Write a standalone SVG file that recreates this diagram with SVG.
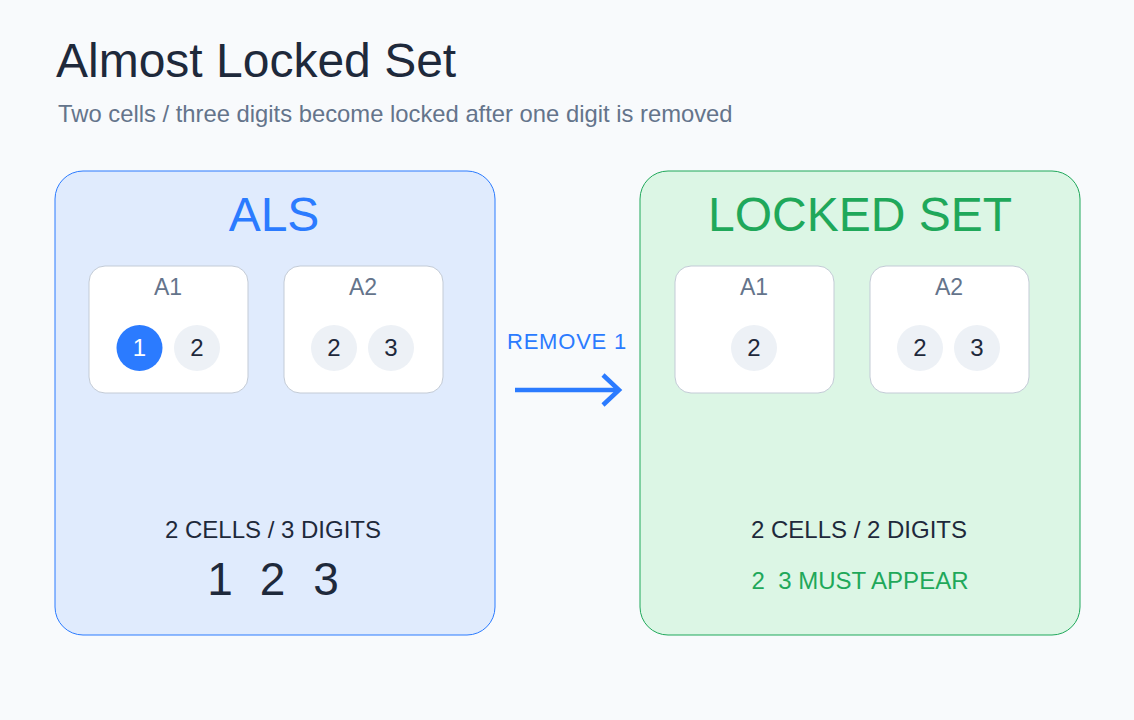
<svg xmlns="http://www.w3.org/2000/svg" width="1134" height="720" viewBox="0 0 1134 720">
  <defs>
    <style>
      text { font-family: "Liberation Sans", Arial, sans-serif; }
      .title { font-size: 48px; fill: #1e293b; }
      .subtitle { font-size: 23.8px; fill: #64748b; }
      .panel-als { fill: #e0ebfd; stroke: #2b7bff; stroke-width: 1; }
      .panel-lock { fill: #dcf6e5; stroke: #1fa85a; stroke-width: 1; }
      .head { font-size: 48px; text-anchor: middle; }
      .cell { fill: #ffffff; stroke: #c3cbd6; stroke-width: 1; }
      .cell-label { font-size: 23px; fill: #64748b; text-anchor: middle; }
      .cand { fill: #edf1f6; }
      .cand-sel { fill: #2b7bff; }
      .cand-text { font-size: 24px; fill: #1e293b; text-anchor: middle; }
      .cand-text-sel { font-size: 24px; fill: #ffffff; text-anchor: middle; }
      .info { font-size: 24px; fill: #1e293b; text-anchor: middle; }
      .big { font-size: 46px; fill: #1e293b; text-anchor: middle; }
      .conn { stroke: #2b7bff; stroke-width: 4.5; fill: none; }
      text.blue { fill: #2b7bff; }
      text.green { fill: #1fa85a; }
    </style>
  </defs>
  <rect x="0" y="0" width="1134" height="720" fill="#f8fafc"/>

  <text class="title" x="56" y="77">Almost Locked Set</text>
  <text class="subtitle" x="58" y="122">Two cells / three digits become locked after one digit is removed</text>

  <g id="als">
    <rect class="panel-als" x="55" y="171" width="440" height="464" rx="28"/>
    <text class="head blue" x="274" y="231">ALS</text>
    <g id="als-a1">
      <rect class="cell" x="89" y="266" width="159" height="127" rx="16"/>
      <text class="cell-label" x="168" y="295">A1</text>
      <circle class="cand-sel" cx="139.5" cy="348" r="23"/>
      <text class="cand-text-sel" x="139.5" y="356">1</text>
      <circle class="cand" cx="197" cy="348" r="23"/>
      <text class="cand-text" x="197" y="356">2</text>
    </g>
    <g id="als-a2">
      <rect class="cell" x="284" y="266" width="159" height="127" rx="16"/>
      <text class="cell-label" x="363" y="295">A2</text>
      <circle class="cand" cx="334" cy="348" r="23"/>
      <text class="cand-text" x="334" y="356">2</text>
      <circle class="cand" cx="391" cy="348" r="23"/>
      <text class="cand-text" x="391" y="356">3</text>
    </g>
    <text class="info" x="273" y="538">2 CELLS / 3 DIGITS</text>
    <text class="big" x="220" y="595">1</text>
    <text class="big" x="272.5" y="595">2</text>
    <text class="big" x="326" y="595">3</text>
  </g>

  <g id="locked">
    <rect class="panel-lock" x="640" y="171" width="440" height="464" rx="28"/>
    <text class="head green" x="860" y="231">LOCKED SET</text>
    <g id="lock-a1">
      <rect class="cell" x="675" y="266" width="159" height="127" rx="16"/>
      <text class="cell-label" x="754" y="295">A1</text>
      <circle class="cand" cx="754" cy="348" r="23"/>
      <text class="cand-text" x="754" y="356">2</text>
    </g>
    <g id="lock-a2">
      <rect class="cell" x="870" y="266" width="159" height="127" rx="16"/>
      <text class="cell-label" x="949" y="295">A2</text>
      <circle class="cand" cx="920" cy="348" r="23"/>
      <text class="cand-text" x="920" y="356">2</text>
      <circle class="cand" cx="977" cy="348" r="23"/>
      <text class="cand-text" x="977" y="356">3</text>
    </g>
    <text class="info" x="859" y="538">2 CELLS / 2 DIGITS</text>
    <text class="info green" x="860" y="589" xml:space="preserve">2  3 MUST APPEAR</text>
  </g>

  <g id="connectors">
    <text x="567" y="349" font-size="22" letter-spacing="0.8" text-anchor="middle" fill="#2b7bff">REMOVE 1</text>
    <path class="conn" d="M515 390 H618"/>
    <path class="conn" d="M603 375 L619 390 L603 405"/>
  </g>
</svg>
